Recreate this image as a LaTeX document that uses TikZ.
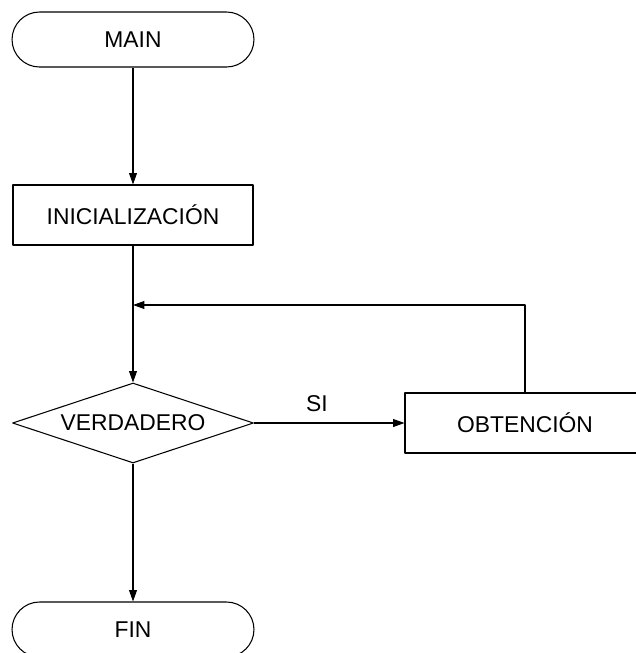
\documentclass[tikz,border=0pt]{standalone}
\usepackage{fontspec}
\setmainfont{Liberation Sans}
\usetikzlibrary{shapes.geometric,arrows.meta}
\begin{document}
\begin{tikzpicture}[x=0.02cm, y=-0.02cm, font=\fontsize{13}{15}\selectfont, line join=round, line width=0.6pt,
  >={Triangle[length=6.5pt,width=4.5pt]},
  term/.style={draw, rounded corners=0.55cm, minimum width=4.84cm, minimum height=1.1cm},
  proc/.style={draw, minimum width=4.8cm, minimum height=1.2cm},
  decision/.style={draw, diamond, aspect=3, inner sep=0pt, minimum width=4.82cm, minimum height=1.6cm}]
\useasboundingbox (0,0) rectangle (636,653);
\clip (0,0) rectangle (636,653);
\node[term] (main) at (133,39.5) {MAIN};
\node[proc] (init) at (133,215) {INICIALIZACIÓN};
\node[decision] (verd) at (133,423) {VERDADERO};
\node[proc] (obt) at (525,423) {OBTENCIÓN};
\node[term] (fin) at (133,629.5) {FIN};
\coordinate (join) at (133,305);
\draw[->] (main) -- (init);
\draw (init) -- (join);
\draw[->] (join) -- (verd);
\draw[->] (verd) -- node[above=3pt, xshift=-7]{SI} (obt);
\draw[->] (obt.north) |- (join);
\draw[->] (verd) -- (fin);
\end{tikzpicture}
\end{document}
